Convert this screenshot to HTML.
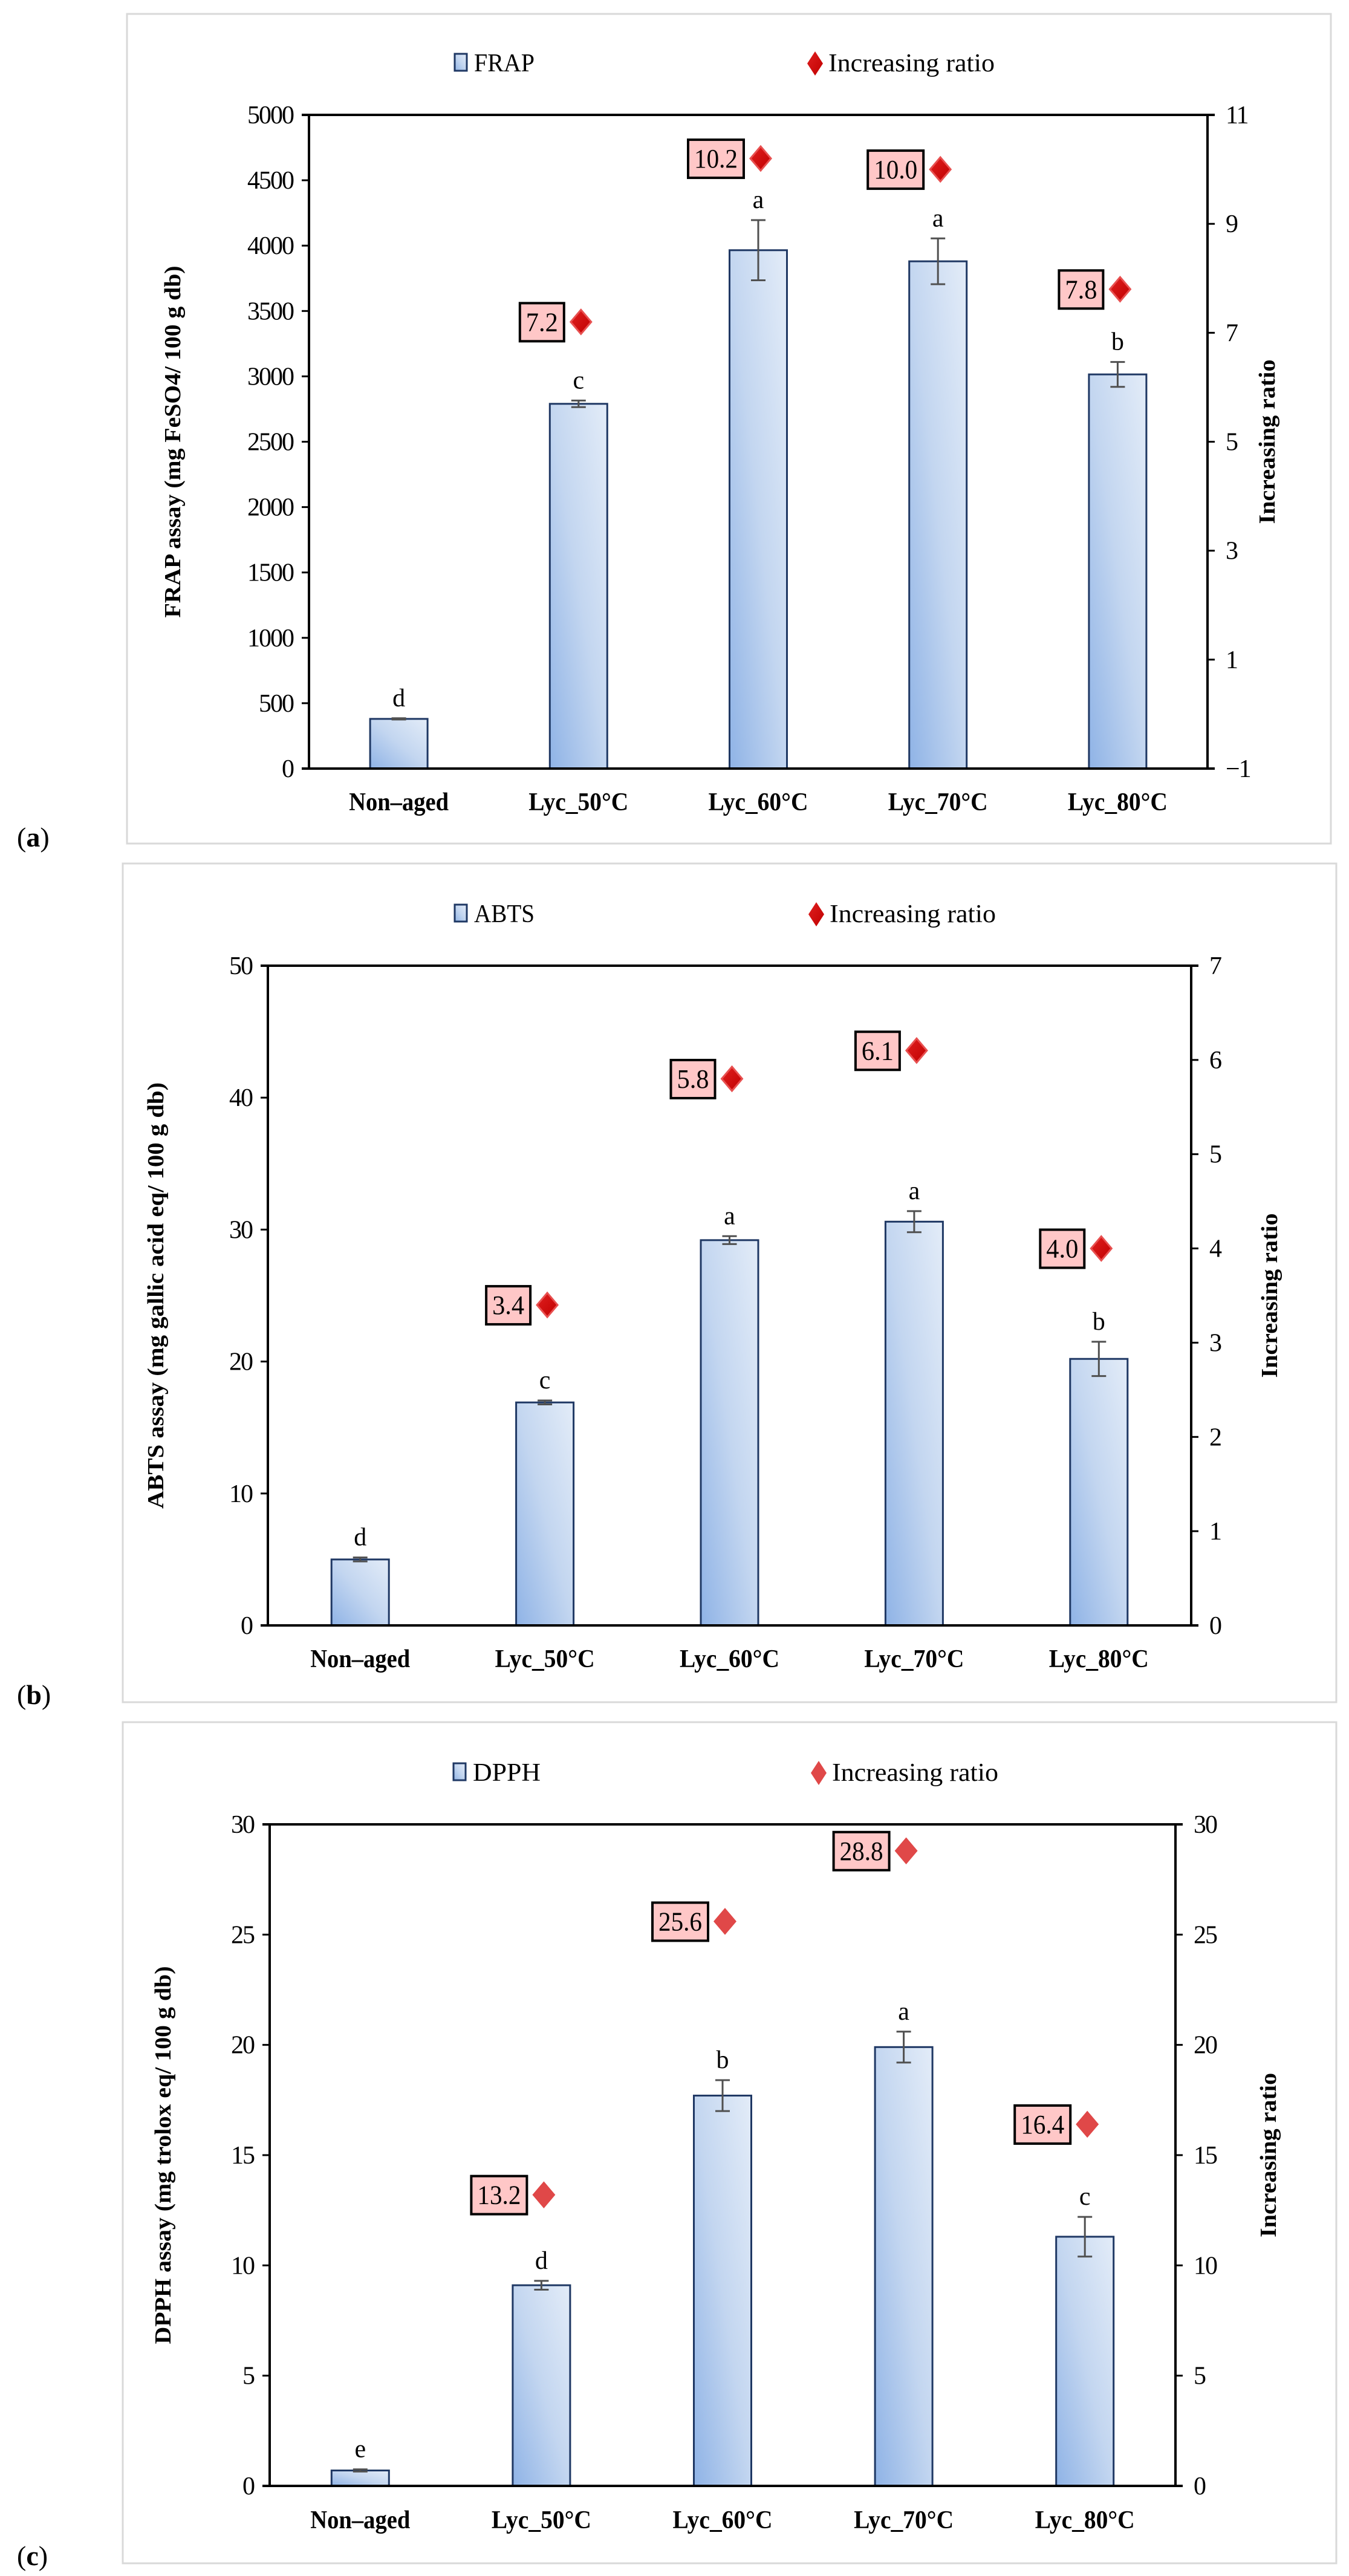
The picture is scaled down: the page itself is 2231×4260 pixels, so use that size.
<!DOCTYPE html>
<html><head><meta charset="utf-8">
<style>
html,body{margin:0;padding:0;background:#fff;}
svg{display:block;font-family:"Liberation Serif",serif;}
</style></head>
<body>
<svg id="fig" width="2231" height="4260" viewBox="0 0 2231 4260" xmlns="http://www.w3.org/2000/svg">
<defs>
<linearGradient id="barGrad" x1="0" y1="1" x2="1" y2="0">
<stop offset="0" stop-color="#8fb3e6"/>
<stop offset="0.5" stop-color="#c3d6f0"/>
<stop offset="1" stop-color="#e3ecf8"/>
</linearGradient>
<linearGradient id="dmGrad" x1="0" y1="0" x2="1" y2="1">
<stop offset="0" stop-color="#e02020"/>
<stop offset="1" stop-color="#c00000"/>
</linearGradient>
</defs>
</svg>
<script>
var categories = ["Non\u2013aged","Lyc_50\u00b0C","Lyc_60\u00b0C","Lyc_70\u00b0C","Lyc_80\u00b0C"];

var frapValues = [380, 2790, 3965, 3880, 3015];
var frapErrors = [5, 25, 230, 175, 95];
var frapLetters = ["d","c","a","a","b"];
var frapRatios = [null, 7.2, 10.2, 10.0, 7.8];
var frapRatioLabels = ["", "7.2", "10.2", "10.0", "7.8"];
var frapLeftTicks = [0,500,1000,1500,2000,2500,3000,3500,4000,4500,5000];
var frapRightTicks = [-1,1,3,5,7,9,11];

var abtsValues = [5.0, 16.9, 29.2, 30.6, 20.2];
var abtsErrors = [0.15, 0.15, 0.3, 0.8, 1.3];
var abtsLetters = ["d","c","a","a","b"];
var abtsRatios = [null, 3.4, 5.8, 6.1, 4.0];
var abtsRatioLabels = ["", "3.4", "5.8", "6.1", "4.0"];
var abtsLeftTicks = [0,10,20,30,40,50];
var abtsRightTicks = [0,1,2,3,4,5,6,7];

var dpphValues = [0.7, 9.1, 17.7, 19.9, 11.3];
var dpphErrors = [0.05, 0.2, 0.7, 0.7, 0.9];
var dpphLetters = ["e","d","b","a","c"];
var dpphRatios = [null, 13.2, 25.6, 28.8, 16.4];
var dpphRatioLabels = ["", "13.2", "25.6", "28.8", "16.4"];
var dpphLeftTicks = [0,5,10,15,20,25,30];
var dpphRightTicks = [0,5,10,15,20,25,30];

var NS = "http://www.w3.org/2000/svg";
var svg = document.getElementById("fig");
function mk(tag, attrs, parent, txt){
  var e = document.createElementNS(NS, tag);
  for (var k in attrs) e.setAttribute(k, attrs[k]);
  if (txt !== undefined) e.textContent = txt;
  (parent || svg).appendChild(e);
  return e;
}

function panel(cfg){
  var g = mk("g", {});
  
  
  var fr = mk("rect", {x:cfg.fx1, y:cfg.fy1, width:cfg.fx2-cfg.fx1, height:cfg.fy2-cfg.fy1, fill:"#fff", stroke:"#d9d9d9", "stroke-width":3}, g);
  
  
  var pl = mk("text", {x:cfg.lx, y:cfg.ly, "font-size":46}, g);
  
  
  mk("tspan", {}, pl, "(");
  mk("tspan", {"font-weight":"bold"}, pl, cfg.letter);
  mk("tspan", {}, pl, ")");

  var L = cfg.left, R = cfg.right, T = cfg.top, B = cfg.bottom;
  function yL(v){ return B - (v - cfg.lmin) / (cfg.lmax - cfg.lmin) * (B - T); }
  function yR(v){ return B - (v - cfg.rmin) / (cfg.rmax - cfg.rmin) * (B - T); }
  var step = (R - L) / categories.length;
  function xC(i){ return L + step * (i + 0.5); }
  var bw = 95;

  var li = mk("rect", {x:cfg.legX, y:cfg.legY-16, width:20, height:28, fill:"url(#barGrad)", stroke:"#1f3864", "stroke-width":3}, g);
  
  
  var lt = mk("text", {x:cfg.legX+32, y:cfg.legY+13, "font-size":42, textLength:cfg.legLen, lengthAdjust:"spacingAndGlyphs"}, g, cfg.series);
  
  
  var ld = mk("path", {d:"M"+(cfg.legD)+" "+(cfg.legY-20)+" l13 20 l-13 20 l-13 -20z", fill:cfg.dcol}, g);
  
  
  var ldt = mk("text", {x:cfg.legD+22, y:cfg.legY+13, "font-size":42, textLength:275, lengthAdjust:"spacingAndGlyphs"}, g, "Increasing ratio");
  
  

  for (var i=0;i<categories.length;i++){
    var v = cfg.values[i], x = xC(i);
    var b = mk("rect", {x:x-bw/2, y:yL(v), width:bw, height:B-yL(v), fill:"url(#barGrad)", stroke:"#1f3864", "stroke-width":3}, g);
    
    
    var e = cfg.errors[i];
    var yt = yL(v+e), yb = yL(v-e);
    var eb = mk("path", {d:"M"+x+" "+yt+" V"+yb+" M"+(x-12)+" "+yt+" H"+(x+12)+" M"+(x-12)+" "+yb+" H"+(x+12), stroke:"#505050", "stroke-width":3, fill:"none"}, g);
    
    
    var lt2 = mk("text", {x:x, y:yt-20, "font-size":42, "text-anchor":"middle"}, g, cfg.letters[i]);
    
    
    if (cfg.ratios[i] !== null){
      var dx = x + 4, dy = yR(cfg.ratios[i]);
      var dm = mk("path", {d:"M"+dx+" "+(dy-20)+" l17 20 l-17 20 l-17 -20z", fill:cfg.dcol, stroke:cfg.dstroke, "stroke-width":3}, g);
      
      
      var lab = cfg.ratioLabels[i];
      var w = lab.length > 3 ? 92 : 73;
      var bx = mk("rect", {x:dx-28-w, y:dy-31, width:w, height:63, fill:"#ffc7c7", stroke:"#000", "stroke-width":4}, g);
      
      
      var bt = mk("text", {x:dx-28-w/2, y:dy+15, "font-size":44, "text-anchor":"middle", textLength:w-20, lengthAdjust:"spacingAndGlyphs"}, g, lab);
      
      
    }
    var xl = mk("text", {x:x, y:cfg.xlY, "font-size":42, "font-weight":"bold", "text-anchor":"middle", textLength:165, lengthAdjust:"spacingAndGlyphs"}, g, categories[i]);
    
    
  }

  var ax = mk("path", {d:"M"+L+" "+T+" V"+B+" M"+(L-12)+" "+B+" H"+(R+12)+" M"+R+" "+T+" V"+B+" M"+(L-12)+" "+T+" H"+(R+12), stroke:"#000", "stroke-width":4, fill:"none"}, g);
  
  
  cfg.lticks.forEach(function(t){
    var y = yL(t);
    mk("line", {x1:L-12, x2:L, y1:y, y2:y, stroke:"#000", "stroke-width":3}, g);
    var tl = mk("text", {x:L-26, y:y+14, "font-size":42, "text-anchor":"end", "letter-spacing":"-2"}, g, String(t));
    
    
  });
  cfg.rticks.forEach(function(t){
    var y = yR(t);
    mk("line", {x1:R, x2:R+12, y1:y, y2:y, stroke:"#000", "stroke-width":3}, g);
    var tl = mk("text", {x:R+30, y:y+14, "font-size":42, "letter-spacing":"-2"}, g, t < 0 ? "\u22121" : String(t));
    
    
  });
  var my = (T + B) / 2;
  var yt1 = mk("text", {x:0, y:0, "font-size":38, "font-weight":"bold", "text-anchor":"middle", textLength:cfg.titleLen, lengthAdjust:"spacingAndGlyphs", transform:"translate("+(cfg.titleX)+","+my+") rotate(-90)"}, g, cfg.title);
  
  
  var yt2 = mk("text", {x:0, y:0, "font-size":38, "font-weight":"bold", "text-anchor":"middle", textLength:272, lengthAdjust:"spacingAndGlyphs", transform:"translate("+(cfg.rtitleX)+","+my+") rotate(-90)"}, g, "Increasing ratio");
  
  
}

panel({name:"frap", letter:"a", fx1:210, fy1:23, fx2:2201, fy2:1395, lx:28, ly:1400,
  left:511, right:1997, top:190, bottom:1271, lmin:0, lmax:5000, rmin:-1, rmax:11,
  values:frapValues, errors:frapErrors, letters:frapLetters, ratios:frapRatios, ratioLabels:frapRatioLabels,
  lticks:frapLeftTicks, rticks:frapRightTicks, legX:752, legY:105, legLen:100, legD:1348, xlY:1340,
  series:"FRAP", title:"FRAP assay (mg FeSO4/ 100 g db)", titleLen:582, titleX:298, rtitleX:2108,
  dcol:"url(#dmGrad)", dstroke:"#e85050"});

panel({name:"abts", letter:"b", fx1:203, fy1:1428, fx2:2210, fy2:2815, lx:28, ly:2818,
  left:443, right:1970, top:1597, bottom:2688, lmin:0, lmax:50, rmin:0, rmax:7,
  values:abtsValues, errors:abtsErrors, letters:abtsLetters, ratios:abtsRatios, ratioLabels:abtsRatioLabels,
  lticks:abtsLeftTicks, rticks:abtsRightTicks, legX:752, legY:1512, legLen:100, legD:1350, xlY:2757,
  series:"ABTS", title:"ABTS assay (mg gallic acid eq/ 100 g db)", titleLen:705, titleX:270, rtitleX:2112,
  dcol:"url(#dmGrad)", dstroke:"#e85050"});

panel({name:"dpph", letter:"c", fx1:203, fy1:2848, fx2:2210, fy2:4239, lx:28, ly:4242,
  left:446, right:1944, top:3017, bottom:4111, lmin:0, lmax:30, rmin:0, rmax:30,
  values:dpphValues, errors:dpphErrors, letters:dpphLetters, ratios:dpphRatios, ratioLabels:dpphRatioLabels,
  lticks:dpphLeftTicks, rticks:dpphRightTicks, legX:750, legY:2932, legLen:112, legD:1354, xlY:4181,
  series:"DPPH", title:"DPPH assay (mg trolox eq/ 100 g db)", titleLen:625, titleX:282, rtitleX:2110,
  dcol:"#e04848", dstroke:"#e04848"});
</script>
</body></html>
